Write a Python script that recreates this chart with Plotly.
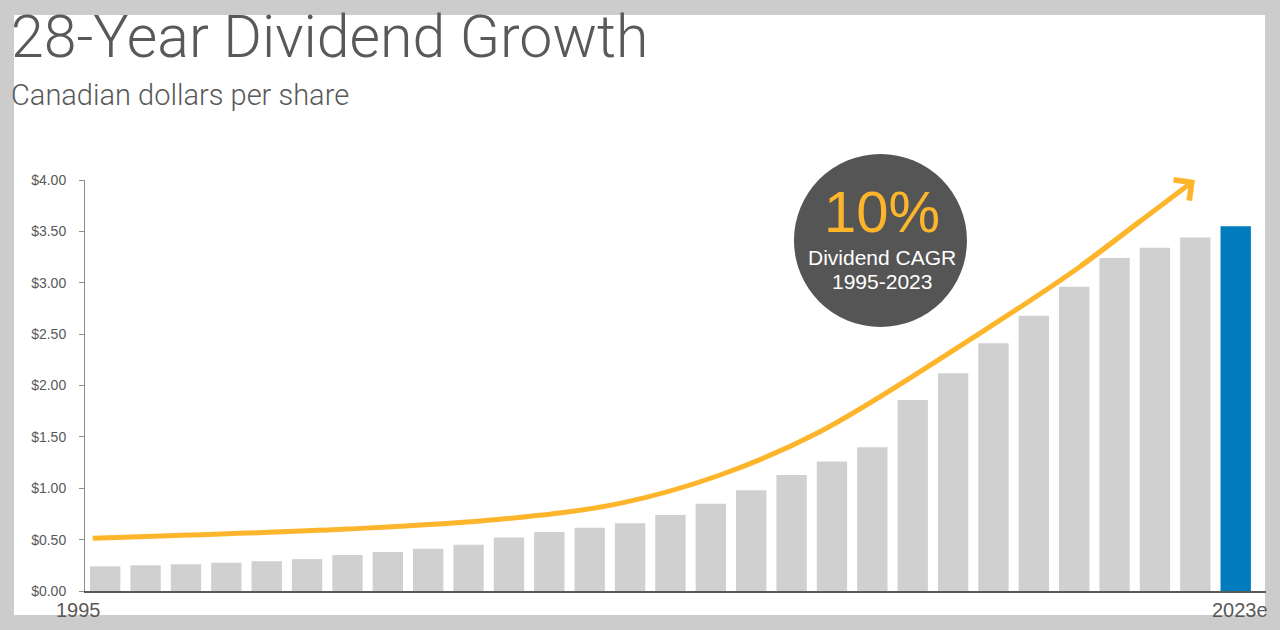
import plotly.graph_objects as go

# dividend per share, CAD
years = list(range(1995, 2024))
dividends = [0.24, 0.25, 0.26, 0.275, 0.29, 0.31, 0.35, 0.38, 0.41, 0.45,
             0.52, 0.575, 0.615, 0.66, 0.74, 0.85, 0.98, 1.13, 1.26, 1.40,
             1.86, 2.12, 2.41, 2.68, 2.96, 3.24, 3.34, 3.44, 3.55]
x_labels = ["1995", "2023e"]
y_ticks = [0, 0.5, 1, 1.5, 2, 2.5, 3, 3.5, 4]

# trend arrow (bar index units, $)
trend_x = [-0.31, 5.99, 9.78, 12.75, 15.23, 17.70, 21.66, 24.14, 25.63]
trend_y = [0.513, 0.603, 0.698, 0.853, 1.129, 1.550, 2.508, 3.156, 3.60]
arrow_tail = (24.14, 3.156)
arrow_tip = (26.99, 4.0)

GREY_BAR = "#d0d0d0"
BLUE = "#007bbd"
ORANGE = "#fdb52b"
TEXT = "#595959"
FONT = "Liberation Sans"

idx = list(range(len(years)))
colors = [GREY_BAR] * (len(years) - 1) + [BLUE]

fig = go.Figure()
fig.add_trace(go.Bar(x=idx, y=dividends, marker_color=colors, marker_line_width=0,
                     hoverinfo="skip", showlegend=False))
fig.add_trace(go.Scatter(x=trend_x, y=trend_y, mode="lines",
                         line=dict(color=ORANGE, width=5, shape="spline", smoothing=1.0),
                         hoverinfo="skip", showlegend=False, cliponaxis=False))

annotations = [
    # arrow head
    dict(x=arrow_tip[0], y=arrow_tip[1], ax=arrow_tail[0], ay=arrow_tail[1],
         xref="x", yref="y", axref="x", ayref="y", text="", showarrow=True,
         arrowhead=4, arrowsize=1, arrowwidth=5, arrowcolor=ORANGE,
         standoff=0, startstandoff=0, borderpad=0),
    dict(x=-0.0643, y=1.350, xref="paper", yref="paper", xanchor="left", yanchor="middle",
         text="28-Year Dividend Growth", showarrow=False,
         font=dict(family="Roboto", weight=300, size=59, color=TEXT)),
    dict(x=-0.0643, y=1.207, xref="paper", yref="paper", xanchor="left", yanchor="middle",
         text="Canadian dollars per share", showarrow=False,
         font=dict(family="Roboto", weight=300, size=29, color=TEXT)),
    dict(x=-0.0059, y=-0.046, xref="paper", yref="paper", xanchor="center", yanchor="middle",
         text=x_labels[0], showarrow=False, font=dict(family=FONT, size=20, color=TEXT)),
    dict(x=0.9776, y=-0.046, xref="paper", yref="paper", xanchor="center", yanchor="middle",
         text=x_labels[1], showarrow=False, font=dict(family=FONT, size=20, color=TEXT)),
    dict(x=19.24, y=3.698, xref="x", yref="y", text="10%", showarrow=False,
         font=dict(family=FONT, size=58, color=ORANGE)),
    dict(x=19.24, y=3.255, xref="x", yref="y", text="Dividend CAGR", showarrow=False,
         height=22, borderpad=0, font=dict(family=FONT, size=21, color="white")),
    dict(x=19.24, y=3.017, xref="x", yref="y", text="1995-2023", showarrow=False,
         height=22, borderpad=0, font=dict(family=FONT, size=21, color="white")),
]

shapes = [
    # white slide panel on grey frame
    dict(type="rect", xref="paper", yref="paper", x0=-0.0601, x1=0.9992, y0=-0.0584, y1=1.4015,
         fillcolor="white", line_width=0, layer="below"),
    dict(type="circle", xref="paper", yref="paper", x0=0.6003, x1=0.7468, y0=0.6423, y1=1.0633,
         fillcolor="#555555", line_width=0, layer="above"),
]

fig.update_layout(
    width=1280, height=630,
    margin=dict(l=85, r=14, t=180, b=39),
    paper_bgcolor="#cccccc", plot_bgcolor="rgba(0,0,0,0)",
    bargap=0.248,
    font=dict(family=FONT, color=TEXT),
    annotations=annotations, shapes=shapes,
)
fig.update_xaxes(range=[-0.5, 28.75], showgrid=False, zeroline=False,
                 showline=True, linecolor="#595959", linewidth=1.5,
                 showticklabels=False, ticks="")
fig.update_yaxes(range=[0, 4], tickmode="array", tickvals=y_ticks,
                 ticktext=[f"${v:.2f}" for v in y_ticks], showgrid=False, zeroline=False,
                 showline=True, linecolor="#8c8c8c", linewidth=1,
                 ticks="outside", ticklen=5, tickcolor="#8c8c8c",
                 ticklabelstandoff=10, tickfont=dict(family=FONT, size=14, color=TEXT))

fig.write_html("out.html", config={"displayModeBar": False},
               post_script="document.body.style.margin='0px';")
